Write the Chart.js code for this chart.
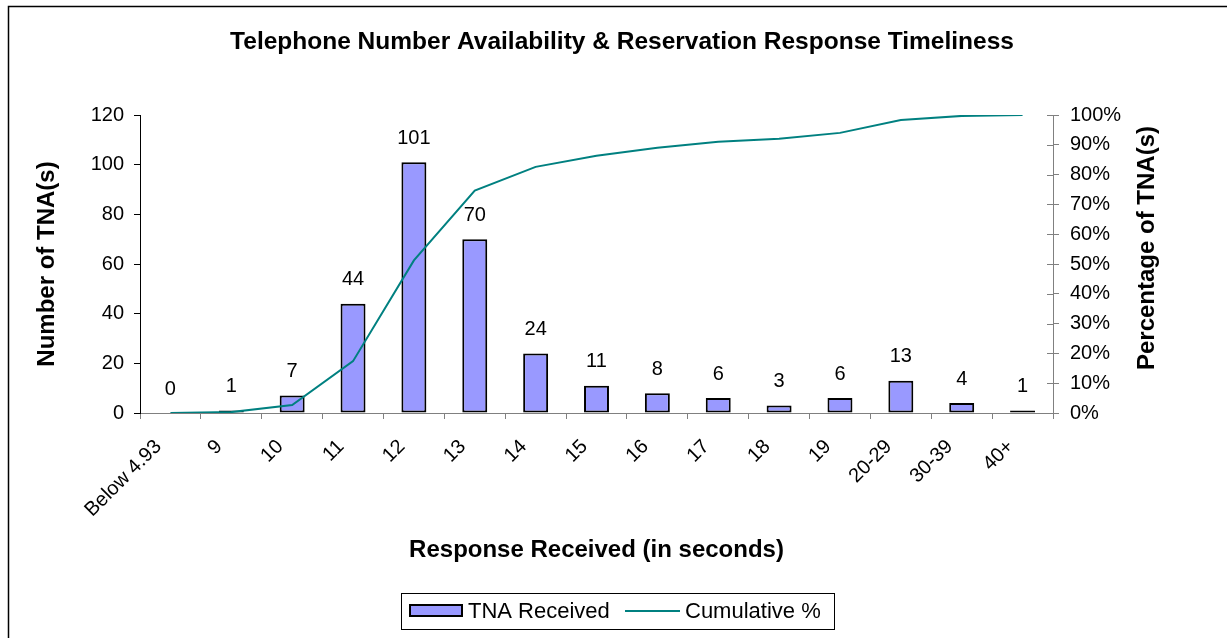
<!DOCTYPE html>
<html>
<head>
<meta charset="utf-8">
<script src="https://cdn.jsdelivr.net/npm/chart.js@4.4.0/dist/chart.umd.min.js"></script>
<style>
  body { margin: 0; background: #fff; }
  #wrap { width: 1227px; height: 638px; position: relative; }
</style>
</head>
<body>
<div id="wrap"><canvas id="myChart"></canvas></div>
<script>
// categories and series
let responseBins = ['Below 4.93', '9', '10', '11', '12', '13', '14', '15', '16', '17', '18', '19', '20-29', '30-39', '40+'];
let tnaReceived = [0, 1, 7, 44, 101, 70, 24, 11, 8, 6, 3, 6, 13, 4, 1];
let cumulativePct = [0, 0.3, 2.7, 17.4, 51.2, 74.6, 82.6, 86.3, 89.0, 91.0, 92.0, 94.0, 98.3, 99.7, 100];
let leftTicks = [0, 20, 40, 60, 80, 100, 120];
let rightTicks = [0, 10, 20, 30, 40, 50, 60, 70, 80, 90, 100];

const FONT = 'Arial, "Liberation Sans", sans-serif';
const BAR_FILL = '#9999FF';
const LINE_COL = '#008080';
const AXIS_GREY = '#808080';

// titles, frame, legend, value labels
const extras = {
    id: 'extras',
    afterDatasetsDraw(chart) {
        const ctx = chart.ctx;
        const meta = chart.getDatasetMeta(1); // the bars
        ctx.save();
        ctx.fillStyle = '#000';
        ctx.font = '20px ' + FONT;
        ctx.textAlign = 'center';
        ctx.textBaseline = 'middle';
        meta.data.forEach((bar, i) => {
            ctx.fillText(String(tnaReceived[i]), bar.x, bar.y - 24);
        });
        ctx.restore();
    },
    afterDraw(chart) {
        const ctx = chart.ctx;
        const area = chart.chartArea;
        const y1 = chart.scales.y1;
        ctx.save();

        // outer frame (only top and left edge visible)
        ctx.strokeStyle = '#000';
        ctx.lineWidth = 1.5;
        ctx.strokeRect(8.5, 6.5, 1400, 800);

        // inner half of the right axis ticks
        ctx.strokeStyle = AXIS_GREY;
        ctx.lineWidth = 1;
        rightTicks.forEach(v => {
            const py = Math.round(y1.getPixelForValue(v)) + 0.5;
            ctx.beginPath();
            ctx.moveTo(area.right - 6, py);
            ctx.lineTo(area.right, py);
            ctx.stroke();
        });

        // chart title
        ctx.fillStyle = '#000';
        ctx.font = 'bold 24.5px ' + FONT;
        ctx.textAlign = 'center';
        ctx.textBaseline = 'alphabetic';
        ctx.fillText('Telephone Number Availability & Reservation Response Timeliness', 622, 49);

        // x axis title
        ctx.font = 'bold 24px ' + FONT;
        ctx.fillText('Response Received (in seconds)', (area.left + area.right) / 2, 557);

        // y axis titles
        ctx.textBaseline = 'middle';
        ctx.save();
        ctx.translate(47, (area.top + area.bottom) / 2);
        ctx.rotate(-Math.PI / 2);
        ctx.fillText('Number of TNA(s)', 0, 0);
        ctx.restore();
        ctx.save();
        ctx.translate(1147, 248);
        ctx.rotate(-Math.PI / 2);
        ctx.fillText('Percentage of TNA(s)', 0, 0);
        ctx.restore();

        // legend
        ctx.strokeStyle = '#000';
        ctx.lineWidth = 1;
        ctx.strokeRect(401.5, 593.5, 433, 36);
        ctx.fillStyle = BAR_FILL;
        ctx.fillRect(410, 605, 52, 11);
        ctx.lineWidth = 2;
        ctx.strokeRect(410, 605, 52, 11);
        ctx.strokeStyle = LINE_COL;
        ctx.beginPath();
        ctx.moveTo(625, 611);
        ctx.lineTo(680, 611);
        ctx.stroke();
        ctx.fillStyle = '#000';
        ctx.font = '22px ' + FONT;
        ctx.textAlign = 'left';
        ctx.textBaseline = 'middle';
        ctx.fillText('TNA Received', 468, 612);
        ctx.fillText('Cumulative %', 685, 612);

        ctx.restore();
    }
};

let myChart = document.getElementById('myChart').getContext('2d');

let paretoChart = new Chart(myChart, {
    type: 'bar',
    data: {
        labels: responseBins,
        datasets: [{
            type: 'line',
            label: 'Cumulative %',
            data: cumulativePct,
            yAxisID: 'y1',
            borderColor: LINE_COL,
            backgroundColor: LINE_COL,
            borderWidth: 2,
            pointRadius: 0,
            tension: 0,
            fill: false,
            order: 0
        }, {
            label: 'TNA Received',
            data: tnaReceived,
            yAxisID: 'y',
            backgroundColor: BAR_FILL,
            borderColor: '#000',
            borderWidth: 2,
            borderSkipped: false,
            categoryPercentage: 1,
            barPercentage: 0.41,
            order: 1
        }]
    },
    options: {
        responsive: true,
        maintainAspectRatio: false,
        animation: false,
        layout: { padding: { top: 115, left: 0, right: 0, bottom: 0 } },
        plugins: {
            legend: { display: false },
            tooltip: { enabled: false }
        },
        scales: {
            x: {
                offset: true,
                grid: { display: true, drawOnChartArea: false, drawTicks: true, tickLength: 6, color: AXIS_GREY, offset: true },
                border: { color: AXIS_GREY, width: 1 },
                ticks: { color: '#000', font: { size: 20, family: FONT }, minRotation: 45, maxRotation: 45, padding: 16, labelOffset: -12, autoSkip: false },
                afterFit(s) { s.height = 225; }
            },
            y: {
                position: 'left',
                min: 0,
                max: 120,
                afterBuildTicks(s) { s.ticks = leftTicks.map(v => ({ value: v })); },
                grid: { drawOnChartArea: false, drawTicks: true, tickLength: 6, color: '#000' },
                border: { color: '#000', width: 1 },
                ticks: { color: '#000', font: { size: 20, family: FONT }, padding: 10 },
                afterFit(s) { s.width = 140; }
            },
            y1: {
                position: 'right',
                min: 0,
                max: 100,
                afterBuildTicks(s) { s.ticks = rightTicks.map(v => ({ value: v })); },
                grid: { drawOnChartArea: false, drawTicks: true, tickLength: 6, color: AXIS_GREY },
                border: { color: AXIS_GREY, width: 1 },
                ticks: { color: '#000', font: { size: 20, family: FONT }, padding: 11, callback: v => v + '%' },
                afterFit(s) { s.width = 174; }
            }
        }
    },
    plugins: [extras]
});
</script>
</body>
</html>
